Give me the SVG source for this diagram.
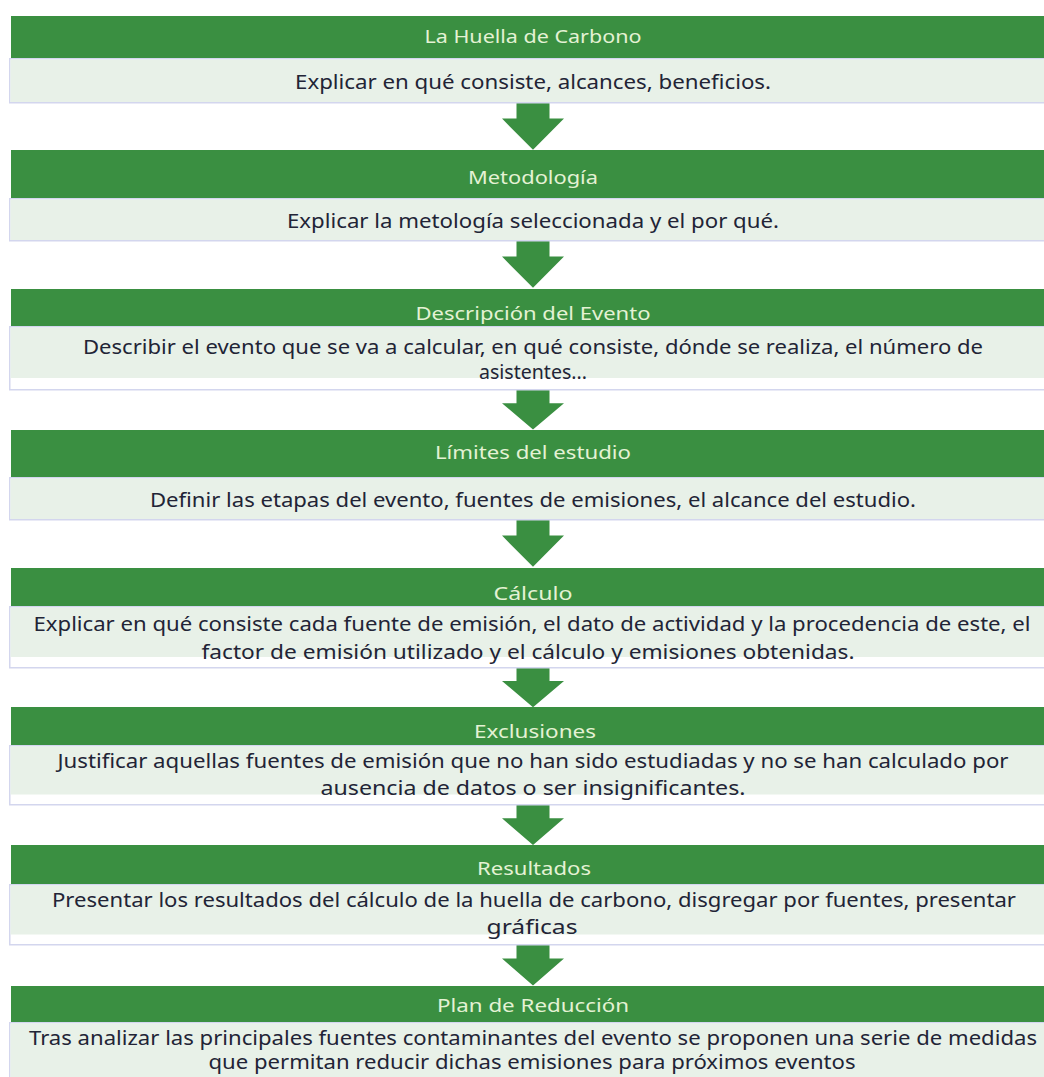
<svg xmlns="http://www.w3.org/2000/svg" width="1044" height="1077" viewBox="0 0 1044 1077">
<style>
.hd{fill:#3a8f41}
.bd{fill:#ffffff;stroke:#d3d6ee;stroke-width:1.5}
.bf{fill:#e8f1e8}
.ht{font-family:"Noto Sans","Open Sans",sans-serif;font-size:18px;fill:#e4f2d4;text-anchor:middle}
.bt{font-family:"Noto Sans","Open Sans",sans-serif;font-size:19px;fill:#222436;text-anchor:middle}
.ar{fill:#3a8f41}
</style>
<defs>
<path id="arr" d="M-16.5,0 H16.5 V15 H31 L0,45 L-31,15 H-16.5 Z"/>
</defs>
<rect width="1044" height="1077" fill="#ffffff"/>
<g id="connectors">
<use href="#arr" class="ar" transform="translate(533,103) scale(1,1.04)"/>
<use href="#arr" class="ar" transform="translate(533,241) scale(1,1.04)"/>
<use href="#arr" class="ar" transform="translate(533,390) scale(1,0.88)"/>
<use href="#arr" class="ar" transform="translate(533,520) scale(1,1.04)"/>
<use href="#arr" class="ar" transform="translate(533,668) scale(1,0.87)"/>
<use href="#arr" class="ar" transform="translate(533,805) scale(1,0.89)"/>
<use href="#arr" class="ar" transform="translate(533,945) scale(1,0.9)"/>
</g>
<g id="n1">
<rect class="hd" x="11" y="16" width="1040" height="42"/>
<rect class="bd" x="9.75" y="58.75" width="1040" height="44"/>
<rect class="bf" x="10.5" y="59.5" width="1040" height="42.5"/>
<text class="ht" x="533" y="43" textLength="217" lengthAdjust="spacingAndGlyphs">La Huella de Carbono</text>
<text class="bt" x="533" y="89" textLength="476" lengthAdjust="spacingAndGlyphs">Explicar en qué consiste, alcances, beneficios.</text>
</g>
<g id="n2">
<rect class="hd" x="11" y="150" width="1040" height="48"/>
<rect class="bd" x="9.75" y="198.75" width="1040" height="42"/>
<rect class="bf" x="10.5" y="199.5" width="1040" height="40.5"/>
<text class="ht" x="533" y="184" textLength="130" lengthAdjust="spacingAndGlyphs">Metodología</text>
<text class="bt" x="533" y="228" textLength="492" lengthAdjust="spacingAndGlyphs">Explicar la metología seleccionada y el por qué.</text>
</g>
<g id="n3">
<rect class="hd" x="11" y="289" width="1040" height="37"/>
<rect class="bd" x="9.75" y="326.75" width="1040" height="63"/>
<rect class="bf" x="10.5" y="327.5" width="1040" height="50.5"/>
<text class="ht" x="533" y="320" textLength="235" lengthAdjust="spacingAndGlyphs">Descripción del Evento</text>
<text class="bt" x="533" y="354" textLength="900" lengthAdjust="spacingAndGlyphs">Describir el evento que se va a calcular, en qué consiste, dónde se realiza, el número de</text>
<text class="bt" x="533" y="379" textLength="108" lengthAdjust="spacingAndGlyphs">asistentes...</text>
</g>
<g id="n4">
<rect class="hd" x="11" y="430" width="1040" height="47"/>
<rect class="bd" x="9.75" y="477.75" width="1040" height="42"/>
<rect class="bf" x="10.5" y="478.5" width="1040" height="40.5"/>
<text class="ht" x="533" y="459" textLength="196" lengthAdjust="spacingAndGlyphs">Límites del estudio</text>
<text class="bt" x="533" y="507" textLength="766" lengthAdjust="spacingAndGlyphs">Definir las etapas del evento, fuentes de emisiones, el alcance del estudio.</text>
</g>
<g id="n5">
<rect class="hd" x="11" y="568" width="1040" height="38"/>
<rect class="bd" x="9.75" y="606.75" width="1040" height="61"/>
<rect class="bf" x="10.5" y="607.5" width="1040" height="49.5"/>
<text class="ht" x="533" y="600" textLength="79" lengthAdjust="spacingAndGlyphs">Cálculo</text>
<text class="bt" x="532" y="631" textLength="997" lengthAdjust="spacingAndGlyphs">Explicar en qué consiste cada fuente de emisión, el dato de actividad y la procedencia de este, el</text>
<text class="bt" x="528" y="659" textLength="653" lengthAdjust="spacingAndGlyphs">factor de emisión utilizado y el cálculo y emisiones obtenidas.</text>
</g>
<g id="n6">
<rect class="hd" x="11" y="707" width="1040" height="38"/>
<rect class="bd" x="9.75" y="745.75" width="1040" height="59"/>
<rect class="bf" x="10.5" y="746.5" width="1040" height="48"/>
<text class="ht" x="535" y="738" textLength="122" lengthAdjust="spacingAndGlyphs">Exclusiones</text>
<text class="bt" x="533" y="768" textLength="951" lengthAdjust="spacingAndGlyphs">Justificar aquellas fuentes de emisión que no han sido estudiadas y no se han calculado por</text>
<text class="bt" x="533" y="795" textLength="425" lengthAdjust="spacingAndGlyphs">ausencia de datos o ser insignificantes.</text>
</g>
<g id="n7">
<rect class="hd" x="11" y="845" width="1040" height="39"/>
<rect class="bd" x="9.75" y="884.75" width="1040" height="60"/>
<rect class="bf" x="10.5" y="885.5" width="1040" height="49"/>
<text class="ht" x="534" y="875" textLength="114" lengthAdjust="spacingAndGlyphs">Resultados</text>
<text class="bt" x="534" y="907" textLength="964" lengthAdjust="spacingAndGlyphs">Presentar los resultados del cálculo de la huella de carbono, disgregar por fuentes, presentar</text>
<text class="bt" x="532" y="934" textLength="91" lengthAdjust="spacingAndGlyphs">gráficas</text>
</g>
<g id="n8">
<rect class="hd" x="11" y="986" width="1040" height="36"/>
<rect class="bd" x="9.75" y="1022.75" width="1040" height="60"/>
<rect class="bf" x="10.5" y="1023.5" width="1040" height="60"/>
<text class="ht" x="533" y="1012" textLength="192" lengthAdjust="spacingAndGlyphs">Plan de Reducción</text>
<text class="bt" x="533" y="1045" textLength="1008" lengthAdjust="spacingAndGlyphs">Tras analizar las principales fuentes contaminantes del evento se proponen una serie de medidas</text>
<text class="bt" x="532" y="1069" textLength="647" lengthAdjust="spacingAndGlyphs">que permitan reducir dichas emisiones para próximos eventos</text>
</g>
</svg>
